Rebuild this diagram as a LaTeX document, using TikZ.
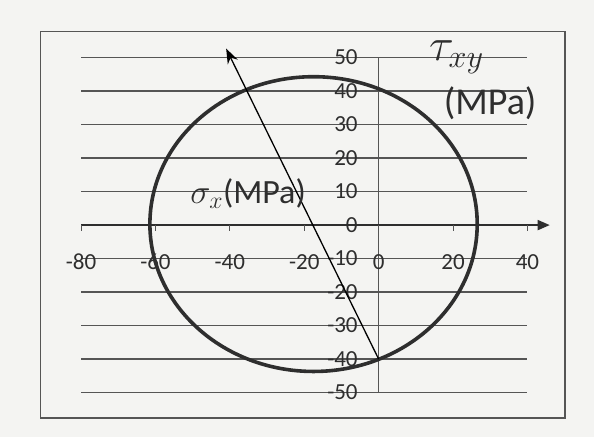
\RequirePackage{fix-cm}
\documentclass[tikz,border=0pt]{standalone}
\usepackage{fontspec}
\setmainfont{Carlito}
\usepackage{xcolor}
\usetikzlibrary{arrows.meta, positioning}

\definecolor{paper}{HTML}{F4F4F2}
\definecolor{ink}{HTML}{2E2E2E}
\definecolor{gridgray}{HTML}{555555}

\tikzset{
    gridline/.style={gridgray, line width=1.7pt},
    ticklabel/.style={text=ink, inner sep=0pt, font=\fontsize{23}{23}\selectfont},
    handnote/.style={text=ink, inner sep=0pt}
}

\begin{document}
\begin{tikzpicture}[x=3.72pt, y=3.35pt]
    % Page and frame
    \fill[paper] (-101.8,-63.3) rectangle (57.9,67.2);
    \useasboundingbox (-101.8,-63.3) rectangle (57.9,67.2);
    \draw[gridgray, line width=1.2pt] (-90.9,-57.6) rectangle (50.1,57.9);

    % Define coordinates
    \coordinate (Centre) at (-17.5, 0.3);
    \coordinate (Start) at (0, -40);
    \coordinate (Tip) at (-41, 52.7);
    \coordinate (AxisL) at (-80, 0);
    \coordinate (AxisR) at (46, 0);
    \coordinate (VTop) at (0, 50);
    \coordinate (VBot) at (0, -50);

    % Draw gridlines
    \foreach \y in {-50,-40,-30,-20,-10,10,20,30,40,50}
        \draw[gridline] (-80,\y) -- (40,\y);

    % Draw axes
    \draw[gridgray, line width=0.9pt] (VTop) -- (VBot);
    \draw[ink, line width=1.7pt, -{Triangle[length=12pt, width=10pt]}] (AxisL) -- (AxisR);
    \foreach \x in {-80,-60,...,40}
        \draw[gridgray, line width=1pt] (\x,0) -- (\x,-1.8);

    % Tick labels
    \foreach \y in {-50,-40,...,50}
        \node[ticklabel, anchor=east] (ylab\y) at (-5.6,\y) {\y};
    \foreach \x in {-80,-60,...,40}
        \node[ticklabel] (xlab\x) at (\x,-11) {\x};

    % Mohr circle
    \draw[ink, line width=3.6pt] (Centre) circle [radius=44];

    % Diameter arrow
    \draw[black, line width=1.3pt, -{Stealth[length=15pt, width=11pt]}] (Start) -- (Tip);

    % Handwritten axis names
    \node[handnote, anchor=north west] (tauLabel) at (13.5,55)
        {\fontsize{46}{46}\selectfont$\tau_{xy}$};
    \node[handnote, anchor=north west, font=\fontsize{38}{40}\selectfont] (mpaLabel) at (17.5,41.5)
        {(MPa)};
    \node[handnote, font=\fontsize{34}{36}\selectfont] (sigmaLabel) at (-35.1,9.3)
        {$\sigma_{x}$(MPa)};
\end{tikzpicture}
\end{document}
